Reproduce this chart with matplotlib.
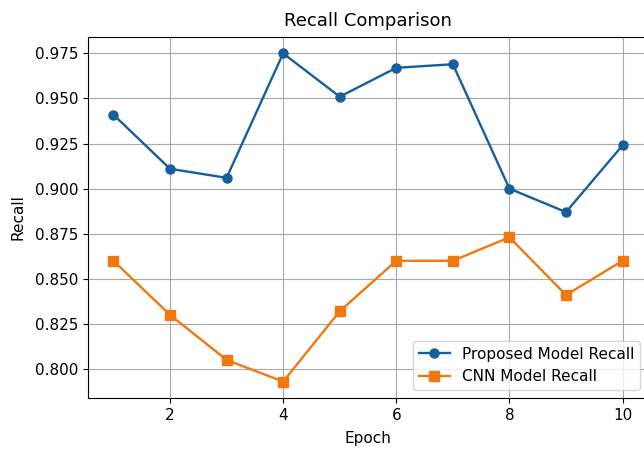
import matplotlib.pyplot as plt

# datos
epochs = [1, 2, 3, 4, 5, 6, 7, 8, 9, 10]
proposed_recall = [0.941, 0.911, 0.906, 0.975, 0.951, 0.967, 0.969, 0.900, 0.887, 0.924]
cnn_recall = [0.860, 0.830, 0.805, 0.793, 0.832, 0.860, 0.860, 0.873, 0.841, 0.860]

# figura (el original esta recortado por la derecha)
fig = plt.figure(figsize=(6.44, 4.5), dpi=100)
ax = fig.add_axes([88/644, 1 - 398/450, 560/644, 361/450])

ax.plot(epochs, proposed_recall, marker='o', color='#155f9c', lw=1.7, ms=6.5,
        label='Proposed Model Recall')
ax.plot(epochs, cnn_recall, marker='s', color='#f07810', lw=1.7, ms=6.5,
        label='CNN Model Recall')

ax.set_title('Recall Comparison', fontsize=13, pad=8)
ax.set_xlabel('Epoch', fontsize=11, labelpad=6)
ax.set_ylabel('Recall', fontsize=11, labelpad=7)
ax.tick_params(labelsize=11)
ax.grid(True, color='#a8a8a8')
ax.legend(loc='lower right', fontsize=11)

plt.savefig('out.png', dpi=100)
